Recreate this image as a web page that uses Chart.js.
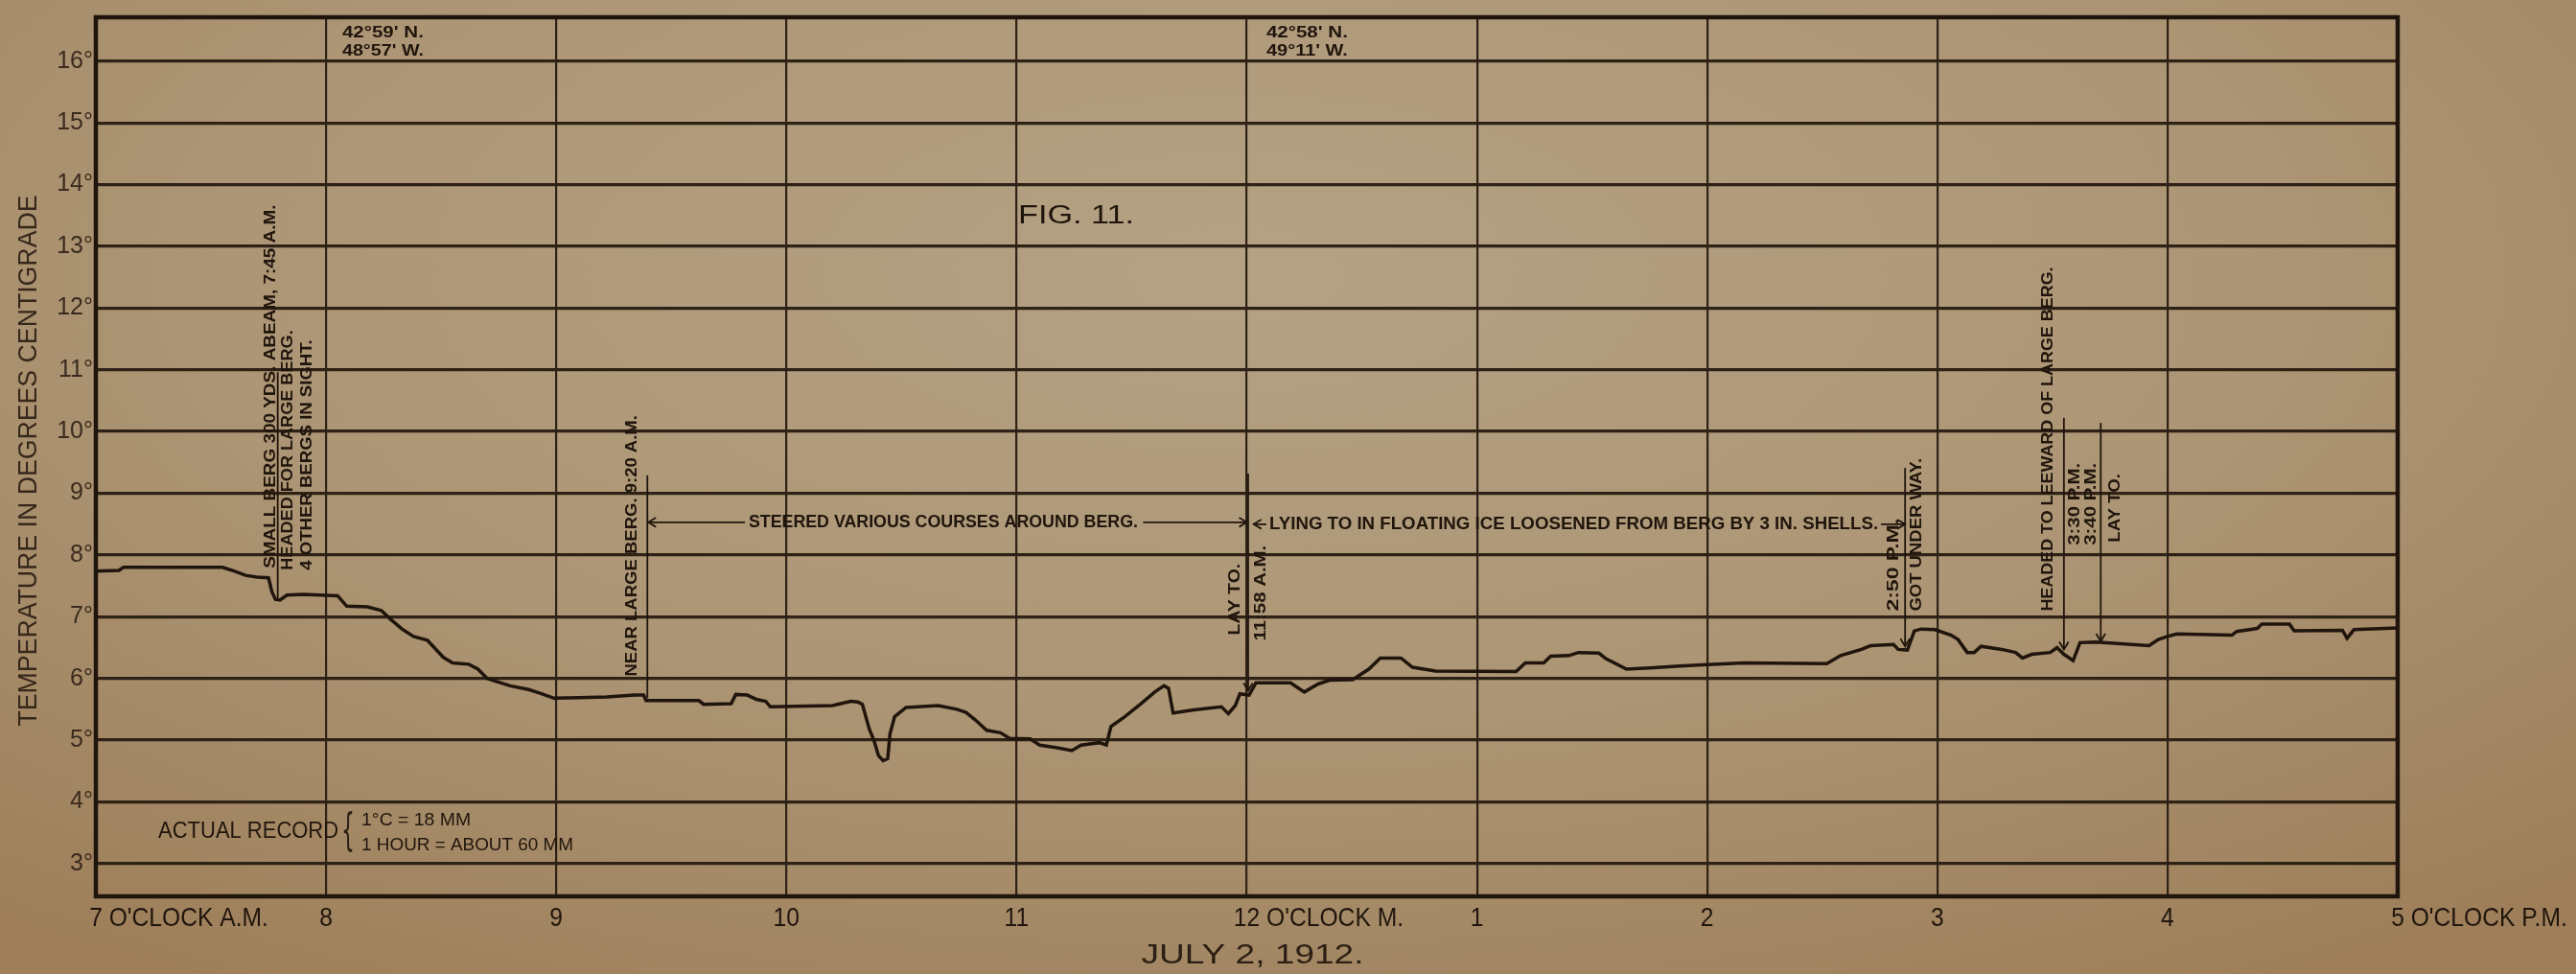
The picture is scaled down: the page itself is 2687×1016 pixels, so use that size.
<!DOCTYPE html>
<html>
<head>
<meta charset="utf-8">
<title>Fig. 11 - July 2, 1912</title>
<script src="https://cdn.jsdelivr.net/npm/chart.js@4.4.1/dist/chart.umd.min.js"></script>
<style>
  html, body { margin: 0; padding: 0; }
  body {
    width: 2687px; height: 1016px; overflow: hidden;
    background: radial-gradient(ellipse 75% 85% at 48% 28%, #b4a284 0%, #ac9574 55%, #9e7f5a 100%);
  }
</style>
</head>
<body>
<canvas id="tempChart" width="2687" height="1016"></canvas>
<script>
// hours of the day (7 = 7 a.m., 17 = 5 p.m.) and the recorded sea temperature, degrees C
const hours = [
  7.00, 7.10, 7.12, 7.35, 7.55, 7.60, 7.65, 7.70, 7.75, 7.765, 7.78, 7.80, 7.83, 7.90,
  8.05, 8.09, 8.18, 8.24, 8.28, 8.33, 8.38, 8.44, 8.47, 8.51, 8.55, 8.62, 8.66, 8.70,
  8.75, 8.80, 8.88, 8.93, 8.99, 9.10, 9.22, 9.34, 9.38, 9.39, 9.62, 9.64, 9.76, 9.78,
  9.83, 9.87, 9.91, 9.93, 10.20, 10.28, 10.31, 10.33, 10.36, 10.38, 10.40, 10.42, 10.44,
  10.45, 10.47, 10.52, 10.66, 10.74, 10.78, 10.82, 10.87, 10.93, 10.97, 11.06, 11.10,
  11.17, 11.24, 11.28, 11.36, 11.39, 11.41, 11.47, 11.54, 11.60, 11.64, 11.66, 11.68,
  11.77, 11.89, 11.92, 11.95, 11.97, 12.01, 12.04, 12.19, 12.25, 12.31, 12.36, 12.46,
  12.53, 12.58, 12.67, 12.72, 12.82, 13.17, 13.21, 13.29, 13.32, 13.40, 13.44, 13.53,
  13.56, 13.65, 13.75, 13.88, 13.98, 14.16, 14.52, 14.58, 14.67, 14.71, 14.81, 14.83,
  14.87, 14.90, 14.93, 14.99, 15.06, 15.09, 15.13, 15.16, 15.19, 15.28, 15.34, 15.37,
  15.41, 15.49, 15.52, 15.55, 15.59, 15.62, 15.69, 15.92, 15.96, 16.00, 16.04, 16.28,
  16.30, 16.39, 16.41, 16.53, 16.55, 16.76, 16.78, 16.81, 17.00
];
const temps = [
  7.74, 7.75, 7.80, 7.80, 7.80, 7.74, 7.67, 7.64, 7.63, 7.40, 7.28, 7.27, 7.35, 7.36,
  7.34, 7.17, 7.16, 7.10, 6.96, 6.80, 6.68, 6.62, 6.50, 6.34, 6.25, 6.23, 6.15, 6.00,
  5.94, 5.88, 5.82, 5.76, 5.68, 5.69, 5.70, 5.73, 5.73, 5.64, 5.64, 5.58, 5.59, 5.74,
  5.73, 5.66, 5.63, 5.54, 5.56, 5.63, 5.62, 5.58, 5.18, 5.00, 4.75, 4.67, 4.70,
  5.10, 5.38, 5.53, 5.56, 5.50, 5.45, 5.33, 5.16, 5.12, 5.03, 5.02, 4.92,
  4.88, 4.83, 4.92, 4.96, 4.92, 5.22, 5.38, 5.59, 5.78, 5.88, 5.84, 5.44,
  5.49, 5.54, 5.43, 5.56, 5.75, 5.73, 5.93, 5.93, 5.78, 5.91, 5.97, 5.98,
  6.15, 6.33, 6.33, 6.18, 6.12, 6.11, 6.25, 6.25, 6.36, 6.37, 6.42, 6.41,
  6.32, 6.15, 6.17, 6.20, 6.22, 6.25, 6.24, 6.37, 6.47, 6.53, 6.55, 6.47,
  6.46, 6.77, 6.80, 6.79, 6.70, 6.63, 6.42, 6.42, 6.52, 6.47, 6.42, 6.33,
  6.39, 6.42, 6.50, 6.39, 6.29, 6.58, 6.59, 6.53, 6.63, 6.68, 6.72, 6.70,
  6.76, 6.81, 6.88, 6.88, 6.77, 6.78, 6.65, 6.79, 6.82
];

// axis ticks and their labels
const hourTicks = [7, 8, 9, 10, 11, 12, 13, 14, 15, 16, 17];
const hourLabels = ["7 O'CLOCK A.M.", '8', '9', '10', '11', "12 O'CLOCK M.", '1', '2', '3', '4', "5 O'CLOCK P.M."];
const tempTicks = [3, 4, 5, 6, 7, 8, 9, 10, 11, 12, 13, 14, 15, 16];

// events written on the record: time of the marker, top of the line, point on the trace
const markers = [
  { h: 7.79, top: 10.96, bottom: 7.30, arrow: false },
  { h: 9.396, top: 9.29, bottom: 5.68, arrow: false },
  { h: 12.006, top: 9.32, bottom: 5.80, arrow: true },
  { h: 14.86, top: 9.41, bottom: 6.52, arrow: true },
  { h: 15.55, top: 10.22, bottom: 6.47, arrow: true },
  { h: 15.71, top: 10.14, bottom: 6.60, arrow: true }
];

// upright notes (read bottom to top)
const sideNotes = [
  { text: 'SMALL BERG 300 YDS. ABEAM, 7:45 A.M.', h: 7.758, lo: 7.785, hi: 13.673 },
  { text: 'HEADED FOR LARGE BERG.', h: 7.833, lo: 7.754, hi: 11.643 },
  { text: '4 OTHER BERGS IN SIGHT.', h: 7.916, lo: 7.754, hi: 11.488 },
  { text: 'NEAR LARGE BERG. 9:20 A.M.', h: 9.328, lo: 6.034, hi: 10.264 },
  { text: 'LAY TO.', h: 11.948, lo: 6.701, hi: 7.863 },
  { text: '11:58 A.M.', h: 12.060, lo: 6.608, hi: 8.157 },
  { text: '2:50 P.M.', h: 14.809, lo: 7.088, hi: 8.591 },
  { text: 'GOT UNDER WAY.', h: 14.909, lo: 7.088, hi: 9.567 },
  { text: 'HEADED TO LEEWARD OF LARGE BERG.', h: 15.480, lo: 7.088, hi: 12.666 },
  { text: '3:30 P.M.', h: 15.596, lo: 8.157, hi: 9.49 },
  { text: '3:40 P.M.', h: 15.667, lo: 8.157, hi: 9.49 },
  { text: 'LAY TO.', h: 15.771, lo: 8.204, hi: 9.319 }
];

// flat notes: from hour, to hour, at temperature
const flatNotes = [
  { text: 'STEERED VARIOUS COURSES AROUND BERG.', h0: 9.836, h1: 11.527, t: 8.529, font: 'bold 18px "Liberation Sans"' },
  { text: 'LYING TO IN FLOATING ICE LOOSENED FROM BERG BY 3 IN. SHELLS.', h0: 12.098, h1: 14.743, t: 8.498, font: 'bold 18px "Liberation Sans"' },
  { text: "42°59' N.", h0: 8.070, h1: 8.424, t: 16.447, font: 'bold 16px "Liberation Sans"' },
  { text: "48°57' W.", h0: 8.070, h1: 8.424, t: 16.152, font: 'bold 16px "Liberation Sans"' },
  { text: "42°58' N.", h0: 12.085, h1: 12.439, t: 16.447, font: 'bold 16px "Liberation Sans"' },
  { text: "49°11' W.", h0: 12.085, h1: 12.439, t: 16.152, font: 'bold 16px "Liberation Sans"' },
  { text: 'FIG. 11.', h0: 11.007, h1: 11.511, t: 13.487, font: '27px "Liberation Sans"' },
  { text: 'ACTUAL RECORD', h0: 7.271, h1: 8.054, t: 3.509, font: '23px "Liberation Sans"' },
  { text: '1°C = 18 MM', h0: 8.154, h1: 8.629, t: 3.695, font: '19px "Liberation Sans"' },
  { text: '1 HOUR = ABOUT 60 MM', h0: 8.154, h1: 9.074, t: 3.293, font: '19px "Liberation Sans"' }
];

// course arrows: line from h0 to h1, gap between g0 and g1
const courseArrows = [
  { h0: 9.40, h1: 12.0, g0: 9.82, g1: 11.55, t: 8.529 },
  { h0: 12.03, h1: 14.86, g0: 12.085, g1: 14.755, t: 8.498 }
];

const INK = '#20150c';
const GRID = '#2e2116';

function drawText(ctx, text, x, y, font, width, opts) {
  opts = opts || {};
  ctx.save();
  ctx.font = font;
  ctx.fillStyle = opts.color || INK;
  ctx.textBaseline = 'middle';
  ctx.textAlign = 'left';
  ctx.translate(x, y);
  if (opts.rotate) ctx.rotate(-Math.PI / 2);
  const w = ctx.measureText(text).width;
  const sx = width ? width / w : 1;
  if (opts.align === 'center') ctx.translate(-w * sx / 2, 0);
  ctx.scale(sx, 1);
  ctx.fillText(text, 0, 0);
  ctx.restore();
}

function arrowHead(ctx, x, y, dir) {
  // open head, dir: 'down', 'left', 'right'
  const s = 8;
  ctx.beginPath();
  if (dir === 'down') {
    ctx.moveTo(x - s * 0.6, y - s); ctx.lineTo(x, y); ctx.lineTo(x + s * 0.6, y - s);
  } else if (dir === 'left') {
    ctx.moveTo(x + s, y - s * 0.6); ctx.lineTo(x, y); ctx.lineTo(x + s, y + s * 0.6);
  } else {
    ctx.moveTo(x - s, y - s * 0.6); ctx.lineTo(x, y); ctx.lineTo(x - s, y + s * 0.6);
  }
  ctx.stroke();
}

const notesPlugin = {
  id: 'notes',
  afterDraw(chart) {
    const ctx = chart.ctx;
    const xs = chart.scales.x, ys = chart.scales.y;
    const area = chart.chartArea;

    // frame
    ctx.save();
    ctx.strokeStyle = INK;
    ctx.lineWidth = 4.5;
    ctx.strokeRect(area.left, area.top, area.right - area.left, area.bottom - area.top);

    // event markers
    ctx.lineWidth = 1.8;
    markers.forEach(m => {
      const x = xs.getPixelForValue(m.h);
      const y0 = ys.getPixelForValue(m.top), y1 = ys.getPixelForValue(m.bottom);
      ctx.beginPath(); ctx.moveTo(x, y0); ctx.lineTo(x, y1); ctx.stroke();
      if (m.arrow) arrowHead(ctx, x, y1, 'down');
    });

    // course arrows
    courseArrows.forEach(a => {
      const y = ys.getPixelForValue(a.t);
      const x0 = xs.getPixelForValue(a.h0), x1 = xs.getPixelForValue(a.h1);
      const g0 = xs.getPixelForValue(a.g0), g1 = xs.getPixelForValue(a.g1);
      ctx.beginPath();
      ctx.moveTo(x0, y); ctx.lineTo(g0, y);
      ctx.moveTo(g1, y); ctx.lineTo(x1, y);
      ctx.stroke();
      arrowHead(ctx, x0, y, 'left');
      arrowHead(ctx, x1, y, 'right');
    });
    ctx.restore();

    // upright notes
    sideNotes.forEach(n => {
      const x = xs.getPixelForValue(n.h);
      const yLo = ys.getPixelForValue(n.lo), yHi = ys.getPixelForValue(n.hi);
      drawText(ctx, n.text, x, yLo, 'bold 17px "Liberation Sans"', yLo - yHi, { rotate: true });
    });

    // flat notes
    flatNotes.forEach(n => {
      const x0 = xs.getPixelForValue(n.h0), x1 = xs.getPixelForValue(n.h1);
      drawText(ctx, n.text, x0, ys.getPixelForValue(n.t), n.font, x1 - x0);
    });

    // brace of the scale note
    const bx = xs.getPixelForValue(8.10);
    drawText(ctx, '{', bx - 8, ys.getPixelForValue(3.49), '46px "DejaVu Sans"', 14, { color: '#2b1e13' });

    // hour labels, the figure under each tick
    ctx.save();
    ctx.font = '28px "Liberation Sans"';
    const labScale = 0.88;
    hourTicks.forEach((h, i) => {
      const lab = hourLabels[i];
      const num = lab.split(' ')[0];
      const nw = ctx.measureText(num).width * labScale;
      const w = ctx.measureText(lab).width * labScale;
      drawText(ctx, lab, xs.getPixelForValue(h) - nw / 2, 958, '28px "Liberation Sans"', w);
    });
    ctx.restore();

    // axis titles
    const midY = (area.top + area.bottom) / 2 + 4;
    drawText(ctx, 'TEMPERATURE IN DEGREES CENTIGRADE', 31, midY, '27px "Liberation Sans"', 554,
      { rotate: true, align: 'center', color: '#35271a' });
    drawText(ctx, 'JULY 2, 1912.', (area.left + area.right) / 2 + 6, 997, '30px "Liberation Sans"', 232,
      { align: 'center', color: '#2b1e13' });
  }
};

const ctx = document.getElementById('tempChart').getContext('2d');

new Chart(ctx, {
  type: 'line',
  data: {
    datasets: [{
      label: 'Temperature',
      data: hours.map((h, i) => ({ x: h, y: temps[i] })),
      borderColor: INK,
      borderWidth: 3.5,
      pointRadius: 0,
      tension: 0,
      fill: false
    }]
  },
  options: {
    responsive: false,
    animation: false,
    devicePixelRatio: 1,
    layout: { padding: { left: 0, top: 16, right: 186, bottom: 0 } },
    plugins: {
      legend: { display: false },
      tooltip: { enabled: false }
    },
    scales: {
      x: {
        type: 'linear',
        min: 7,
        max: 17,
        afterBuildTicks: s => { s.ticks = hourTicks.map(v => ({ value: v })); },
        afterFit: s => { s.height = 81; },
        ticks: { display: false },
        grid: { color: GRID, lineWidth: 2.2, drawTicks: false },
        border: { display: false }
      },
      y: {
        type: 'linear',
        min: 2.47,
        max: 16.71,
        afterBuildTicks: s => { s.ticks = tempTicks.map(v => ({ value: v })); },
        afterFit: s => { s.width = 100; },
        ticks: {
          callback: v => v + '°',
          color: '#3a2b1e',
          font: { family: '"Liberation Sans"', size: 25 },
          padding: 3
        },
        grid: { color: GRID, lineWidth: 3.2, drawTicks: false },
        border: { display: false }
      }
    }
  },
  plugins: [notesPlugin]
});
</script>
</body>
</html>
